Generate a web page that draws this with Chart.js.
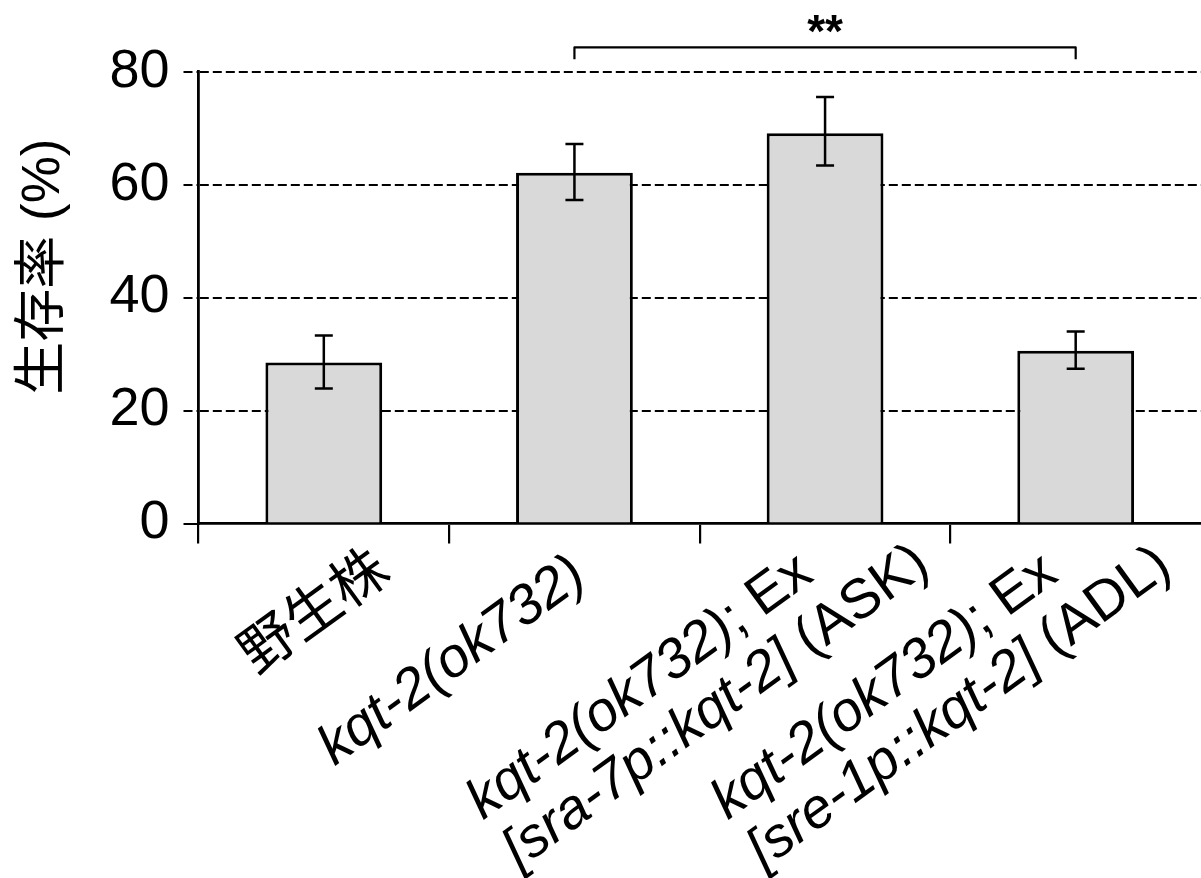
<!DOCTYPE html>
<html lang="ja">
<head>
<meta charset="utf-8">
<title>生存率</title>
<script src="https://cdn.jsdelivr.net/npm/chart.js@4.4.1/dist/chart.umd.min.js"></script>
<style>
  html, body { margin: 0; padding: 0; background: #fff; }
  #graph { display: block; }
</style>
</head>
<body>
<canvas id="graph" width="1201" height="878"></canvas>
<script>

// categories on the x axis (plain names, the drawn labels are below)
const categories = ['野生株', 'kqt-2(ok732)', 'kqt-2(ok732); Ex [sra-7p::kqt-2] (ASK)', 'kqt-2(ok732); Ex [sre-1p::kqt-2] (ADL)'];

// survival in %
const survival = [28.5, 62.1, 69.1, 30.6];
const errLow   = [23.9, 57.3, 63.4, 27.4];
const errHigh  = [33.3, 67.2, 75.5, 34.0];

// y axis ticks
const yTicks = [0, 20, 40, 60, 80];

// label lines, each line is a list of [text, italic]
const labelLines = [
    [[['野生株', false]]],
    [[['kqt-2(ok732)', true]]],
    [[['kqt-2(ok732)', true], ['; Ex', false]], [['[sra-7p::kqt-2]', true], [' (ASK)', false]]],
    [[['kqt-2(ok732)', true], ['; Ex', false]], [['[sre-1p::kqt-2]', true], [' (ADL)', false]]],
];

// significance bracket between bar 2 and bar 4
const sigFrom = 1;
const sigTo = 3;
const sigText = '**';

const yTitle = '生存率 (%)';

/* ------------------------------ drawing ------------------------------ */
const FONT = "'Liberation Sans', 'Noto Sans CJK JP', Arial, sans-serif";
const LABEL_SIZE = 56;
const LABEL_ANGLE = 36 * Math.PI / 180;
const LINE_HEIGHT = 61;
// where line 1 of each label starts, relative to category center / axis
const labelNudge = [[-67, 152], [-240, 243], [-342, 297], [-348, 297]];

const errorBars = {
    id: 'errorBars',
    afterDatasetsDraw(chart) {
        const ctx = chart.ctx;
        const y = chart.scales.y;
        const bars = chart.getDatasetMeta(0).data;
        ctx.save();
        ctx.strokeStyle = '#000';
        ctx.lineWidth = 2.5;
        for (let i = 0; i < bars.length; i++) {
            const cx = bars[i].x;
            const top = y.getPixelForValue(errHigh[i]);
            const bot = y.getPixelForValue(errLow[i]);
            ctx.beginPath();
            ctx.moveTo(cx, top); ctx.lineTo(cx, bot);
            ctx.moveTo(cx - 9, top); ctx.lineTo(cx + 9, top);
            ctx.moveTo(cx - 9, bot); ctx.lineTo(cx + 9, bot);
            ctx.stroke();
        }
        ctx.restore();
    }
};

const extras = {
    id: 'extras',
    afterDraw(chart) {
        const ctx = chart.ctx;
        const x = chart.scales.x;
        const y = chart.scales.y;
        const area = chart.chartArea;

        // bracket + stars
        const x1 = x.getPixelForValue(sigFrom);
        const x2 = x.getPixelForValue(sigTo);
        const yTop = y.getPixelForValue(84.3);
        const yEnd = y.getPixelForValue(82.2);
        ctx.save();
        ctx.strokeStyle = '#000';
        ctx.lineWidth = 2.2;
        ctx.lineJoin = 'round';
        ctx.beginPath();
        ctx.moveTo(x1, yEnd);
        ctx.lineTo(x1, yTop);
        ctx.lineTo(x2, yTop);
        ctx.lineTo(x2, yEnd);
        ctx.stroke();
        ctx.fillStyle = '#000';
        ctx.font = 'bold 46px ' + FONT;
        ctx.textAlign = 'center';
        ctx.textBaseline = 'alphabetic';
        ctx.fillText(sigText, (x1 + x2) / 2, y.getPixelForValue(84.3));
        ctx.restore();

        // y axis title
        ctx.save();
        ctx.translate(area.left - 140, (area.top + area.bottom) / 2 - 31);
        ctx.rotate(-Math.PI / 2);
        ctx.fillStyle = '#000';
        ctx.font = '53px ' + FONT;
        ctx.textAlign = 'center';
        ctx.textBaseline = 'alphabetic';
        ctx.fillText(yTitle, 0, 0);
        ctx.restore();

        // rotated x labels with italic gene names
        for (let i = 0; i < labelLines.length; i++) {
            ctx.save();
            ctx.translate(x.getPixelForValue(i) + labelNudge[i][0], area.bottom + labelNudge[i][1]);
            ctx.rotate(-LABEL_ANGLE);
            ctx.fillStyle = '#000';
            ctx.textAlign = 'left';
            ctx.textBaseline = 'alphabetic';
            labelLines[i].forEach(function(line, li) {
                let cursor = 0;
                for (const part of line) {
                    ctx.font = (part[1] ? 'italic ' : '') + LABEL_SIZE + 'px ' + FONT;
                    ctx.fillText(part[0], cursor, li * LINE_HEIGHT);
                    cursor += ctx.measureText(part[0]).width;
                }
            });
            ctx.restore();
        }
    }
};

const graph = new Chart(document.getElementById('graph').getContext('2d'), {
    type: 'bar',
    data: {
        labels: categories,
        datasets: [{
            data: survival,
            backgroundColor: '#d9d9d9',
            borderColor: '#000',
            borderWidth: 3,
            borderSkipped: 'start',
            barPercentage: 0.466,
            categoryPercentage: 1.0,
        }]
    },
    options: {
        responsive: false,
        animation: false,
        layout: { padding: { top: 71.7, right: 0, bottom: 334.5, left: 0 } },
        plugins: { legend: { display: false }, tooltip: { enabled: false } },
        scales: {
            x: {
                offset: true,
                ticks: { display: false },
                grid: {
                    offset: true,
                    drawOnChartArea: false,
                    drawTicks: true,
                    tickLength: 20,
                    color: '#000',
                    // last boundary sits on the right edge, not shown in the original
                    tickColor: c => c.tick ? '#000' : 'rgba(0,0,0,0)',
                    lineWidth: 2.2,
                },
                border: { color: '#000', width: 2.8 },
            },
            y: {
                min: yTicks[0],
                max: yTicks[yTicks.length - 1],
                ticks: { stepSize: yTicks[1] - yTicks[0], color: '#000', padding: 14, font: { family: FONT, size: 54 } },
                grid: {
                    color: c => (c.tick && c.tick.value === 0) ? 'rgba(0,0,0,0)' : '#000',
                    lineWidth: 2,
                    tickLength: 15,
                    tickColor: '#000',
                    tickBorderDash: c => (c.tick && c.tick.value === 0) ? [] : [9, 4],
                },
                border: { color: '#000', width: 2.8, dash: [9, 4] },
                afterFit: s => { s.width = 198.5; },
            }
        }
    },
    plugins: [errorBars, extras]
});
</script>
</body>
</html>
